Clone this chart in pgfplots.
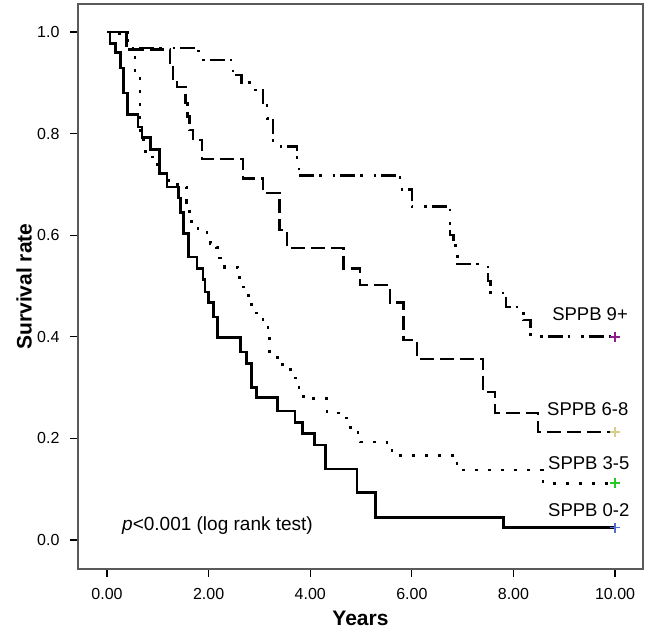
\documentclass[border=0pt]{standalone}
\usepackage{pgfplots}
\pgfplotsset{compat=1.18}
\usepackage{fontspec}
\setmainfont{Liberation Sans}

\definecolor{frame}{RGB}{90,90,90}
\definecolor{mk92}{RGB}{140,30,140}
\definecolor{mk68}{RGB}{215,205,140}
\definecolor{mk35}{RGB}{40,200,40}
\definecolor{mk02}{RGB}{80,110,210}

\begin{document}
\begin{tikzpicture}
\useasboundingbox (-78pt,-62pt) rectangle (570pt,569pt);
\begin{axis}[
    scale only axis,
    width=565pt, height=565pt,
    xmin=-0.571, xmax=10.55,
    ymin=-0.057, ymax=1.055,
    axis line style={draw=frame, line width=1.8pt},
    xtick={0,2,4,6,8,10},
    ytick={0,0.2,0.4,0.6,0.8,1.0},
    tick align=outside,
    major tick length=8pt,
    tick style={black, line width=1.3pt},
    xtick pos=bottom, ytick pos=left,
    x tick label style={/pgf/number format/fixed, /pgf/number format/fixed zerofill,
        /pgf/number format/precision=2, /pgf/number format/assume math mode=true, yshift=-8pt},
    y tick label style={/pgf/number format/fixed, /pgf/number format/fixed zerofill,
        /pgf/number format/precision=1, /pgf/number format/assume math mode=true, xshift=-7pt},
    tick label style={font=\fontsize{16}{16}\selectfont},
    xlabel={Years}, ylabel={Survival rate},
    every axis x label/.style={at={(axis description cs:0.5,0)}, anchor=center, yshift=-49pt,
        font=\fontsize{21}{21}\selectfont\bfseries},
    every axis y label/.style={at={(axis description cs:0,0.5)}, anchor=center, xshift=-54pt, rotate=90,
        font=\fontsize{21}{21}\selectfont\bfseries},
    clip=false,
]
% SPPB 0-2
\addplot[const plot, black, line width=2.8pt] coordinates {
(0,1.0) (0.06,0.978) (0.16,0.959) (0.26,0.929) (0.32,0.88) (0.41,0.837)
(0.61,0.813) (0.69,0.793) (0.85,0.768) (1.04,0.722) (1.18,0.695) (1.40,0.673)
(1.45,0.644) (1.50,0.604) (1.60,0.557) (1.77,0.535) (1.89,0.512) (1.93,0.488)
(2.0,0.467) (2.09,0.439) (2.17,0.398) (2.62,0.37) (2.75,0.348) (2.85,0.30)
(2.95,0.28) (3.35,0.254) (3.70,0.232) (3.84,0.209) (4.09,0.187) (4.30,0.14)
(4.92,0.094) (5.28,0.045) (7.8,0.024) (10,0.024)
};
% SPPB 3-5
\addplot[const plot, black, line width=2.8pt, dash pattern=on 3pt off 10pt] coordinates {
(0,1.0) (0.25,0.984) (0.45,0.95) (0.55,0.915) (0.65,0.80) (0.72,0.777)
(0.75,0.754) (1.0,0.722) (1.2,0.708) (1.38,0.695) (1.57,0.665) (1.62,0.643)
(1.67,0.626) (1.79,0.61) (1.97,0.595) (2.03,0.584) (2.16,0.575) (2.22,0.555)
(2.32,0.537) (2.58,0.516) (2.64,0.498) (2.72,0.482) (2.85,0.447) (3.07,0.43)
(3.17,0.407) (3.2,0.36) (3.46,0.335) (3.70,0.319) (3.78,0.297) (3.86,0.278)
(4.33,0.25) (4.59,0.24) (4.72,0.222) (4.94,0.211) (4.98,0.193) (5.51,0.183)
(5.61,0.167) (6.89,0.138) (8.58,0.112) (10,0.112)
};
% SPPB 6-8
\addplot[const plot, black, line width=2.6pt, dash pattern=on 14pt off 6pt] coordinates {
(0,1.0) (0.38,0.966) (1.24,0.94) (1.30,0.9) (1.38,0.892) (1.54,0.86)
(1.58,0.833) (1.62,0.807) (1.69,0.787) (1.87,0.75) (2.68,0.712) (3.07,0.683)
(3.40,0.61) (3.54,0.575) (4.65,0.535) (4.98,0.502) (5.57,0.467) (5.83,0.394)
(6.1,0.356) (7.4,0.291) (7.64,0.25) (8.48,0.213) (10,0.213)
};
% SPPB 9+
\addplot[const plot, black, line width=2.6pt, dash pattern=on 2.5pt off 5pt on 15pt off 5pt on 2.5pt off 11pt] coordinates {
(0,1.0) (0.4,0.968) (1.8,0.945) (2.48,0.915) (2.65,0.9) (2.8,0.886)
(3.07,0.86) (3.15,0.83) (3.27,0.775) (3.74,0.745) (3.78,0.718) (5.77,0.69)
(6.0,0.656) (6.75,0.6) (6.82,0.58) (6.9,0.543) (7.5,0.51) (7.55,0.486)
(7.85,0.459) (8.2,0.433) (8.33,0.4) (10,0.4)
};
% censoring marks at the end
\addplot[only marks, mark=+, mark size=5pt, mark options={line width=1.5pt}, color=mk92] coordinates {(10,0.4)};
\addplot[only marks, mark=+, mark size=5pt, mark options={line width=1.5pt}, color=mk68] coordinates {(10,0.213)};
\addplot[only marks, mark=+, mark size=5pt, mark options={line width=1.5pt}, color=mk35] coordinates {(10,0.112)};
\addplot[only marks, mark=+, mark size=5pt, mark options={line width=1.2pt}, color=mk02] coordinates {(10,0.024)};

\node[anchor=base west, inner sep=0pt, font=\fontsize{18.5}{18.5}\selectfont] at (axis cs:8.76,0.433) {SPPB 9+};
\node[anchor=base west, inner sep=0pt, font=\fontsize{18.5}{18.5}\selectfont] at (axis cs:8.66,0.246) {SPPB 6-8};
\node[anchor=base west, inner sep=0pt, font=\fontsize{18.5}{18.5}\selectfont] at (axis cs:8.68,0.138) {SPPB 3-5};
\node[anchor=base west, inner sep=0pt, font=\fontsize{18.5}{18.5}\selectfont] at (axis cs:8.68,0.046) {SPPB 0-2};
\node[anchor=base west, inner sep=0pt, font=\fontsize{19}{19}\selectfont] at (axis cs:0.295,0.018) {\textit{p}<0.001 (log rank test)};
\end{axis}
\end{tikzpicture}
\end{document}
